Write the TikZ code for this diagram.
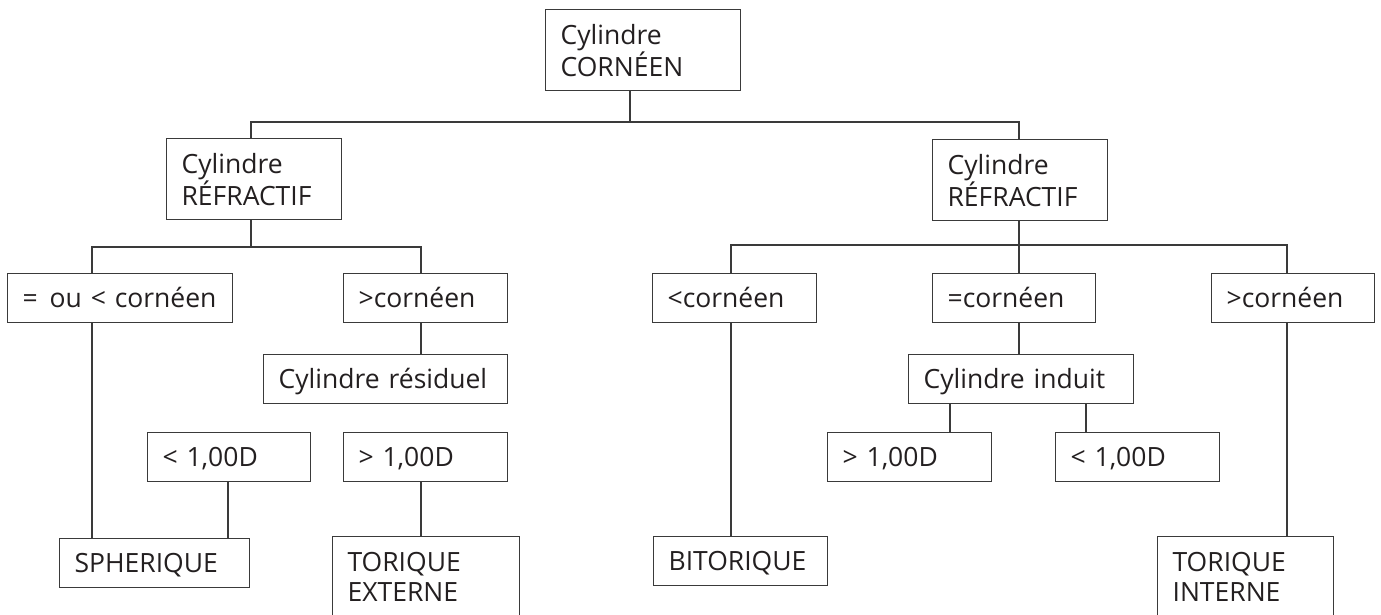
\documentclass[tikz,border=0pt]{standalone}
\usepackage{fontspec}
\setmainfont{Open Sans}
\definecolor{ink}{HTML}{231F20}
\definecolor{rule}{HTML}{3A3A3A}
\tikzset{
  box/.style={draw=rule, line width=1.2pt, rectangle, anchor=north west,
    inner xsep=15pt, inner ysep=0pt, align=left, text=ink,
    font=\fontsize{26.5}{30}\selectfont},
  one/.style={minimum height=49pt, text height=19pt, text depth=0pt},
  two/.style={minimum height=81pt},
  wire/.style={draw=rule, line width=1.2pt}
}
\begin{document}
\begin{tikzpicture}[x=1pt,y=-1pt]
\useasboundingbox (0,0) rectangle (1381,615);
\clip (0,0) rectangle (1381,615);
% boxes
\node[box,two,minimum width=195pt,text width=165pt] (A) at (545,9) {Cylindre\\CORNÉEN};
\node[box,two,minimum width=175pt,text width=145pt] (B) at (166,138) {Cylindre\\RÉFRACTIF};
\node[box,two,minimum width=175pt,text width=145pt] (J) at (932,139) {Cylindre\\RÉFRACTIF};
\node[box,one,minimum width=225pt,text width=195pt] (C) at (7,273) {\mbox{=\hspace{0.45em}ou < cornéen}};
\node[box,one,minimum width=164pt,text width=134pt] (D) at (343,273) {>cornéen};
\node[box,one,minimum width=244pt,text width=214pt] (E) at (263,354) {Cylindre résiduel};
\node[box,one,minimum width=163pt,text width=133pt] (F) at (147,432) {< 1,00D};
\node[box,one,minimum width=164pt,text width=134pt] (G) at (343,432) {> 1,00D};
\node[box,one,minimum width=190pt,text width=160pt] (H) at (59,538) {SPHERIQUE};
\node[box,two,minimum width=187pt,text width=157pt] (I) at (332,536) {TORIQUE\\EXTERNE};
\node[box,one,minimum width=164pt,text width=134pt] (K) at (652,273) {<cornéen};
\node[box,one,minimum width=163pt,text width=133pt] (L) at (932,273) {=cornéen};
\node[box,one,minimum width=163pt,text width=133pt] (M) at (1211,273) {>cornéen};
\node[box,one,minimum width=225pt,text width=195pt] (N) at (908,354) {Cylindre induit};
\node[box,one,minimum width=164pt,text width=134pt] (O) at (827,432) {> 1,00D};
\node[box,one,minimum width=164pt,text width=134pt] (P) at (1055,432) {< 1,00D};
\node[box,one,minimum width=174pt,text width=144pt] (Q) at (653,536) {BITORIQUE};
\node[box,two,minimum width=176pt,text width=146pt] (R) at (1157,536) {TORIQUE\\INTERNE};
% junction coordinates
\coordinate (pa) at (630,122);
\coordinate (pb) at (251,122);
\coordinate (pj) at (1019,122);
\coordinate (pb2) at (251,247);
\coordinate (pc) at (92,247);
\coordinate (pd) at (421,247);
\coordinate (pf) at (228,247);
\coordinate (pj2) at (1019,245);
\coordinate (pk) at (731,245);
\coordinate (pm) at (1287,245);
\coordinate (pn1) at (950,0);
\coordinate (pn2) at (1086,0);
% connectors
\draw[wire] (A.south -| pa) -- (pa);
\draw[wire] (B.north -| pb) -- (pb) -- (pj) -- (J.north -| pj);
\draw[wire] (B.south -| pb2) -- (pb2);
\draw[wire] (C.north -| pc) -- (pc) -- (pd) -- (D.north -| pd);
\draw[wire] (C.south -| pc) -- (H.north -| pc);
\draw[wire] (D.south -| pd) -- (E.north -| pd);
\draw[wire] (F.south -| pf) -- (H.north -| pf);
\draw[wire] (G.south -| pd) -- (I.north -| pd);
\draw[wire] (J.south -| pj2) -- (pj2);
\draw[wire] (K.north -| pk) -- (pk) -- (pm) -- (M.north -| pm);
\draw[wire] (L.north -| pj2) -- (pj2);
\draw[wire] (K.south -| pk) -- (Q.north -| pk);
\draw[wire] (L.south -| pj2) -- (N.north -| pj2);
\draw[wire] (M.south -| pm) -- (R.north -| pm);
\draw[wire] (N.south -| pn1) -- (O.north -| pn1);
\draw[wire] (N.south -| pn2) -- (P.north -| pn2);
\end{tikzpicture}
\end{document}
